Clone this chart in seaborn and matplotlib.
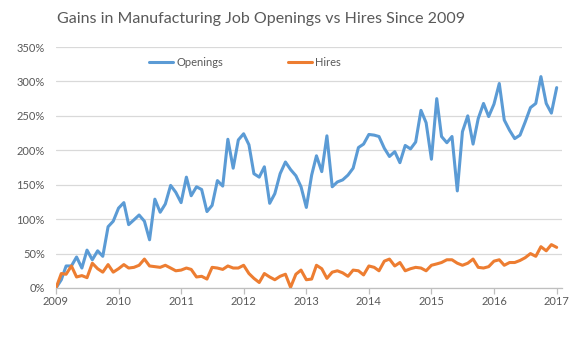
import numpy as np
import pandas as pd
import matplotlib
matplotlib.use("Agg")
import matplotlib.pyplot as plt
from matplotlib.ticker import FuncFormatter
import seaborn as sns

start_month = "2009-01-01"
n_months = 97
series_names = ["Openings", "Hires"]

openings = [0, 12, 32, 32, 45, 29, 55, 41, 54, 46, 89, 97,
            116, 124, 92, 99, 106, 97, 70, 129, 110, 122, 149, 139,
            124, 161, 134, 147, 143, 111, 120, 156, 148, 216, 174, 215,
            224, 208, 166, 161, 176, 123, 137, 166, 183, 172, 163, 147,
            117, 164, 192, 169, 221, 147, 154, 157, 164, 174, 204, 209,
            223, 222, 220, 203, 191, 198, 182, 207, 202, 212, 258, 240,
            187, 275, 220, 211, 220, 141, 227, 250, 209, 246, 268, 249,
            267, 297, 244, 229, 217, 222, 241, 262, 268, 307, 268, 254,
            291]

hires = [0, 21, 20, 32, 16, 18, 15, 36, 28, 23, 34, 23,
         28, 34, 29, 30, 33, 42, 32, 31, 30, 33, 29, 25,
         26, 29, 27, 16, 17, 13, 30, 29, 27, 32, 29, 29,
         33, 21, 14, 8, 21, 16, 12, 17, 20, 1, 20, 26,
         12, 13, 33, 28, 14, 23, 25, 22, 17, 26, 25, 19,
         32, 30, 25, 39, 42, 32, 37, 25, 28, 30, 29, 25,
         33, 35, 37, 41, 41, 36, 33, 36, 42, 30, 29, 31,
         39, 41, 33, 37, 37, 40, 44, 50, 46, 60, 54, 63,
         59]

y_ticks = [0, 50, 100, 150, 200, 250, 300, 350]
x_tick_years = list(range(2009, 2018))

dates = pd.date_range(start_month, periods=n_months, freq="MS")
df = pd.DataFrame({
    "date": np.concatenate([dates, dates]),
    "value": openings + hires,
    "series": [series_names[0]] * n_months + [series_names[1]] * n_months,
})

sns.set_theme(style="white")
plt.rcParams["font.family"] = ["Lato", "DejaVu Sans"]

W, H = 579, 344
fig = plt.figure(figsize=(W / 100, H / 100), dpi=100)
ax = fig.add_axes([56 / W, 1 - 288 / H, (562 - 56) / W, (288 - 47) / H])

palette = {"Openings": "#5B9BD5", "Hires": "#ED7D31"}
sns.lineplot(data=df, x="date", y="value", hue="series", palette=palette,
             linewidth=2.2, ax=ax, legend=True)

ax.set_ylim(0, 350)
ax.set_xlim(pd.Timestamp("2009-01-01"), pd.Timestamp("2017-02-01"))
ax.set_yticks(y_ticks)
ax.yaxis.set_major_formatter(FuncFormatter(lambda v, p: f"{int(v)}%"))
ax.set_xticks([pd.Timestamp(f"{y}-01-01") for y in x_tick_years])
ax.set_xticklabels([str(y) for y in x_tick_years])
ax.grid(axis="y", color="#D9D9D9", linewidth=0.9)
ax.set_axisbelow(True)
for s in ["top", "right", "left"]:
    ax.spines[s].set_visible(False)
ax.spines["bottom"].set_color("#BFBFBF")
ax.spines["bottom"].set_linewidth(0.9)
ax.tick_params(axis="x", which="major", bottom=True, length=4, width=0.9,
               color="#BFBFBF", labelsize=8, labelcolor="#595959", pad=2)
ax.tick_params(axis="y", length=0, labelsize=8, labelcolor="#595959", pad=8)
ax.set_xlabel("")
ax.set_ylabel("")

leg = ax.legend(loc="center", bbox_to_anchor=(245 / W, 1 - 62 / H),
                bbox_transform=fig.transFigure, ncol=2, frameon=False,
                fontsize=8, handlelength=2.2, columnspacing=5.8,
                handletextpad=0.3, labelcolor="#595959")

fig.text(261 / W, 1 - 19 / H, "Gains in Manufacturing Job Openings vs Hires Since 2009",
         ha="center", va="center", fontsize=11.5, color="#595959")

fig.savefig("out.png", dpi=100, facecolor="white")
